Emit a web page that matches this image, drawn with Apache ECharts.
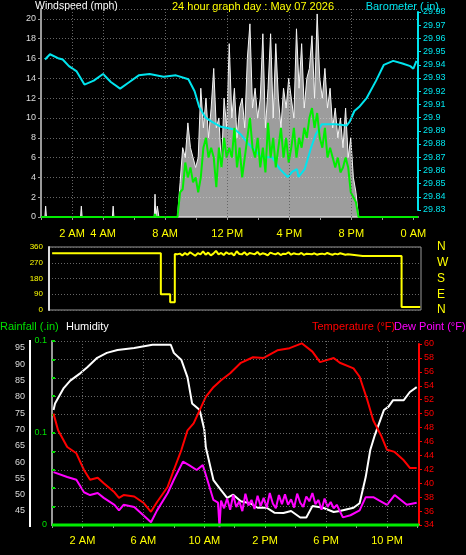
<!DOCTYPE html>
<html><head><meta charset="utf-8">
<script src="https://cdn.jsdelivr.net/npm/echarts@6/dist/echarts.min.js"></script>
<style>html,body{margin:0;padding:0;background:#000}#c{width:466px;height:555px}</style>
</head><body><div id="c"></div>
<script>
// ---------- data ----------
const topTickHours = [2,4,8,12,16,20,24];
const topTickLabels = ['2 AM','4 AM','8 AM','12 PM','4 PM','8 PM','0 AM'];
const botTickHours = [2,6,10,14,18,22];
const botTickLabels = ['2 AM','6 AM','10 AM','2 PM','6 PM','10 PM'];

// wind, calm part (hour, gust)
const calmHours = [0,0.25,0.3,0.35,2.55,2.6,2.65,4.6,4.65,4.7,7.3,7.35,7.4,7.5,7.55,7.6,8.8];
const calmGust  = [0,0,1.1,0,0,1.1,0,0,1.1,0,0,2.3,0,1.1,1.1,0,0];
const calmAvg   = [0,0,0,0,0,0.1,0,0,0,0,0,0.3,0,0,0,0,0];
// wind, active part (every 10 min from 8.8 h)
const windStart = 8.8, windStep = 1/6;
const windGust = [0,3.5,7,6,9.5,7,6,5,6,13,9,12,8,11,15,9,10,5,12,9,17.5,10,13,8,11,12,9,16,19.5,11,13,10,12,18.5,9,13,18.5,10,17.5,12,9,13,11,14,12,10,19,13,17.5,11,14,15,18.3,12,20.5,14,12,15,11,13,9,11,8,10,7,11,6,8,4,2.5,0];
const windAvg  = [0,2.5,2.8,5.5,4,5,3.5,4,2.5,4,7,8,6,7,6,3,7,5,8,6,7,6,9,5,7,4,6,8,10,7,6,8,5,7,4.5,9.5,6,8,5,7,9,6,8,5.5,7,9,6,8,7,9,8,10,11,9,10.5,8,7,9,6,7,6,5,6,4.5,5,6,5,2.5,2,1.5,0];
const windEndHours = [24.3];

// barometer
const baroHours = [0.26,0.58,1.1,1.4,1.8,2.3,2.8,3.4,4.0,4.5,5.1,5.7,6.3,7.0,7.9,8.7,9.5,9.9,10.2,10.6,11.0,11.6,12.5,12.9,13.3,13.8,14.2,14.9,15.4,15.9,16.2,16.5,16.6,17.0,17.4,17.7,18.1,19.0,19.7,19.9,20.2,20.5,21.0,21.6,22.1,22.7,23.3,23.8,24.0,24.2];
const baroVals  = [29.944,29.948,29.945,29.944,29.939,29.935,29.925,29.928,29.933,29.927,29.922,29.927,29.932,29.933,29.931,29.932,29.929,29.920,29.908,29.900,29.897,29.893,29.891,29.887,29.881,29.875,29.870,29.870,29.861,29.855,29.859,29.861,29.855,29.861,29.877,29.887,29.895,29.895,29.894,29.897,29.905,29.908,29.915,29.928,29.940,29.943,29.941,29.939,29.937,29.943];

// wind direction
const dirHoursA = [0.7,7.7,7.7,8.3,8.3,8.6,8.6];
const dirValsA  = [325,325,90,90,45,45,320];
const dirStart = 8.75, dirStep = 1/6;
const dirVals = [318,322,312,326,315,330,320,310,325,318,335,316,328,312,322,338,318,326,314,330,320,325,312,336,320,318,330,314,326,322,318,332,316,324,320,312,328,322,318,326,314,322,320,330,316,324,320,318,326,315,322,320,318,324,316,320,322,318,326,320,316,322,318,324,320,316,318];
const dirHoursB = [20.7,23.2,23.2,24.4];
const dirValsB  = [309,309,17,17];

// humidity
const humHours = [0.1,0.2,0.77,1.2,1.87,2.3,2.97,3.6,4.3,5.4,6.6,7.8,8.0,8.5,8.9,9.2,9.7,10.0,10.1,10.6,11.1,11.5,11.9,12.4,13.0,13.5,14.1,14.6,15.2,15.7,16.3,16.7,17.1,17.8,18.5,18.9,19.8,20.2,20.6,20.9,21.2,21.8,22.1,22.4,23.1,23.5,23.95];
const humVals  = [76,78,82.7,85,87.3,89,92,93.5,94.4,95,96,96,93.5,91.3,86,78,76,70,64.6,54.5,51.4,49,50,48,47.4,46,46,44.5,44.4,45,43,43,46.5,46,44.7,45,46,47.4,55.4,63.7,68.3,76,77,79,79,81.5,83];

// temperature
const tempHours = [0.1,0.4,1.0,1.6,2.1,2.5,3.0,3.4,4.1,4.4,4.7,5.4,6.0,6.5,6.9,7.6,8.0,8.5,8.9,9.3,9.7,10.1,10.6,11.1,11.7,12.4,13.2,13.9,14.8,15.6,16.4,17.1,17.6,18.5,18.9,19.8,20.2,20.7,21.1,21.6,22.0,22.5,23.1,23.5,23.95];
const tempVals  = [50,47.6,45.2,44.3,41.9,40.5,40.8,40,38.7,37.9,38.3,38.1,37.2,35.9,37.3,39.5,41.9,44.8,47.6,48.6,50.5,52.4,53.8,54.8,55.8,57.3,58.1,58,59.1,59.4,60.1,58.9,57.4,58,57.3,56.5,55.3,52,49,46.9,44.8,44.5,43.3,42.2,42.2];

// dew point
const dewHours = [0.1,1.0,1.6,2.1,2.5,3.0,3.4,4.1,4.4,4.7,5.4,6.0,6.5,6.9,7.6,8.0,8.6,9.0,9.5,9.9,10.2,10.6,10.9,11.0,11.1,11.3,11.5,11.7,11.9,12.1,12.3,12.5,12.7,12.9,13.1,13.3,13.5,13.7,13.9,14.1,14.3,14.5,14.7,14.9,15.1,15.3,15.5,15.7,15.9,16.1,16.3,16.5,16.7,16.9,17.1,17.3,17.5,17.7,17.9,18.1,18.3,18.5,18.7,19.1,19.6,20.2,20.6,21.1,21.5,22.0,22.5,23.3,23.95];
const dewVals  = [41.6,40.9,40.5,38.7,38.3,38.6,37.9,36.9,36.1,36.9,36.6,35.4,34.4,36.1,38.6,40.5,43.1,42.6,41.9,42.6,40.5,37.6,37.2,33.7,37.5,36.4,37.8,36.2,38.3,36.6,37.4,36,38.5,36.8,37.6,36.3,38.2,36.7,37.9,36.5,38.6,37.1,36.4,38.3,37,38.4,36.9,37.7,36.5,38.5,37.2,36.6,38.1,37.4,38.6,37,37.6,36.2,37.8,36.6,37.3,36.4,36.9,35.1,35.4,36.1,38,38,37.5,36.9,38.3,36.9,37.2];

// rainfall
const rainHours = [0,24.1];
const rainVals = [0,0];

// ---------- build ----------
const zip = (h,v)=>h.map((x,i)=>[x,v[i]]);
const gustData = zip(calmHours,calmGust).concat(windGust.map((v,i)=>[windStart+i*windStep,v]), [[windEndHours[0],0]]);
const avgData  = zip(calmHours,calmAvg).concat(windAvg.map((v,i)=>[windStart+i*windStep,v]), [[windEndHours[0],0]]);
const dirData = zip(dirHoursA,dirValsA).concat(dirVals.map((v,i)=>[dirStart+i*dirStep,v]), zip(dirHoursB,dirValsB));

const dotted = {show:true,lineStyle:{color:'#666',type:[1,2],width:1}};
const vlines = (hs)=>({silent:true,symbol:'none',label:{show:false},lineStyle:{color:'#666',type:[1,2],width:1},data:hs.map(h=>({xAxis:h}))});
const F = 'Liberation Sans';
const chart = echarts.init(document.getElementById('c'));
const hiddenX = (g,min,max)=>({type:'value',gridIndex:g,min:min,max:max,show:false});
const ts = (c)=>({color:c,fontSize:11,fontWeight:'normal',fontFamily:F});

chart.setOption({
  backgroundColor:'#000',
  animation:false,
  textStyle:{fontFamily:F},
  title:[
    {text:'Windspeed (mph)',left:35,top:1,padding:0,textStyle:Object.assign(ts('#fff'),{fontSize:10.5})},
    {text:'24 hour graph day : May 07 2026',left:172,top:1,padding:0,textStyle:ts('#ffff00')},
    {text:'Barometer (.in)',right:27,top:1,padding:0,textStyle:ts('#00e5ee')},
    {text:'Rainfall (.in)',left:0,top:321,padding:0,textStyle:ts('#00e000')},
    {text:'Humidity',left:66,top:321,padding:0,textStyle:ts('#fff')},
    {text:'Temperature (°F)',left:312,top:321,padding:0,textStyle:ts('#ff0000')},
    {text:'Dew Point (°F)',left:394,top:321,padding:0,textStyle:ts('#ff00ff')}
  ],
  grid:[
    {left:41,right:48,top:9,bottom:338},
    {left:41,right:48,top:12,bottom:345},
    {left:49,right:45,top:247,bottom:245,show:true,borderColor:'#999',borderWidth:1},
    {left:52,right:47,top:341,bottom:30},
    {left:52,right:47,top:348,bottom:44},
    {left:52,right:47,top:344,bottom:30}
  ],
  xAxis:[
    {type:'value',gridIndex:0,min:0,max:24.3,interval:2,
     axisLine:{lineStyle:{color:'#999',width:2}},axisTick:{show:true,length:3,lineStyle:{color:'#999'}},
     splitLine:{show:false},
     axisLabel:{color:'#ffff00',fontSize:11,margin:11,showMaxLabel:false,formatter:v=>{const i=topTickHours.indexOf(v);return i<0?'':topTickLabels[i];}}},
    hiddenX(1,0,24.3),
    hiddenX(2,0.5,24.45),
    {type:'value',gridIndex:3,min:0,max:24.1,interval:2,
     axisLine:{lineStyle:{color:'#999',width:2}},axisTick:{show:true,length:3,lineStyle:{color:'#999'}},
     splitLine:{show:false},
     axisLabel:{color:'#ffff00',fontSize:11,margin:10,showMaxLabel:false,formatter:v=>{const i=botTickHours.indexOf(v);return i<0?'':botTickLabels[i];}}},
    hiddenX(4,0,24.1),
    hiddenX(5,0,24.1)
  ],
  yAxis:[
    {type:'value',gridIndex:0,min:0,max:21,interval:2,
     axisLine:{show:true,onZero:false,lineStyle:{color:'#999',width:2}},axisTick:{show:true,length:3,lineStyle:{color:'#999'}},
     splitLine:dotted,axisLabel:{color:'#ddd',fontSize:9,margin:5,showMaxLabel:false}},
    {type:'value',gridIndex:1,min:29.83,max:29.98,interval:0.01,position:'right',
     axisLine:{show:true,onZero:false,lineStyle:{color:'#00e5ee',width:2}},axisTick:{show:true,length:3,lineStyle:{color:'#00e5ee'}},
     splitLine:{show:false},axisLabel:{color:'#00e5ee',fontSize:9,margin:5,formatter:v=>v.toFixed(2).replace(/0$/,'')}},
    {type:'value',gridIndex:2,min:0,max:360,interval:90,
     axisLine:{show:true,onZero:false,lineStyle:{color:'#ddd',width:2}},axisTick:{show:false},
     splitLine:dotted,axisLabel:{color:'#ffff00',fontSize:8,margin:6}},
    {type:'value',gridIndex:3,min:0,max:0.2,interval:0.02,
     axisLine:{show:true,onZero:false,lineStyle:{color:'#999',width:2}},axisTick:{show:true,length:3,inside:true,lineStyle:{color:'#00e000',width:2}},
     splitLine:dotted,axisLabel:{color:'#00e000',fontSize:9,margin:5,formatter:v=>Math.abs(v)<1e-9?'0':(Math.abs(v-0.1)<1e-9?'0.1':(Math.abs(v-0.2)<1e-9?'0.1':''))}},
    {type:'value',gridIndex:4,min:45,max:95,interval:5,offset:22,
     axisLine:{show:false,onZero:false},axisTick:{show:false},
     splitLine:{show:false},axisLabel:{color:'#ddd',fontSize:9,margin:5}},
    {type:'value',gridIndex:5,min:34,max:60,interval:2,position:'right',
     axisLine:{show:true,onZero:false,lineStyle:{color:'#ff0000',width:2}},axisTick:{show:true,length:3,lineStyle:{color:'#ff0000'}},
     splitLine:{show:false},axisLabel:{color:'#ff0000',fontSize:9,margin:5}},
    {type:'value',gridIndex:2,min:0,max:360,interval:90,position:'right',
     axisLine:{show:false,onZero:false},axisTick:{show:false},splitLine:{show:false},
     axisLabel:{color:'#ffff00',fontSize:12,margin:16,formatter:v=>({0:'N',90:'E',180:'S',270:'W',360:'N'})[v]}}
  ],
  graphic:[
    {type:'line',shape:{x1:30,y1:340,x2:30,y2:527},style:{stroke:'#fff',lineWidth:2},silent:true}
  ],
  series:[
    {type:'line',xAxisIndex:0,yAxisIndex:0,data:gustData,showSymbol:false,clip:false,
     lineStyle:{color:'#f4f4f4',width:1},areaStyle:{color:'#e0e0e0',opacity:0.7},markLine:vlines([2,4,8,12,16,20]),z:2},
    {type:'line',xAxisIndex:1,yAxisIndex:1,data:zip(baroHours,baroVals),showSymbol:false,clip:false,
     lineStyle:{color:'#00e5ee',width:2},z:3},
    {type:'line',xAxisIndex:0,yAxisIndex:0,data:avgData,showSymbol:false,clip:false,
     lineStyle:{color:'#00ee00',width:2},z:4},
    {type:'line',xAxisIndex:2,yAxisIndex:2,data:dirData,showSymbol:false,clip:false,
     lineStyle:{color:'#ffff00',width:2}},
    {type:'line',xAxisIndex:3,yAxisIndex:3,data:zip(rainHours,rainVals),showSymbol:false,clip:false,
     lineStyle:{color:'#00ee00',width:3},markLine:vlines(botTickHours),z:5},
    {type:'line',xAxisIndex:4,yAxisIndex:4,data:zip(humHours,humVals),showSymbol:false,clip:false,
     lineStyle:{color:'#ffffff',width:2}},
    {type:'line',xAxisIndex:5,yAxisIndex:5,data:zip(tempHours,tempVals),showSymbol:false,clip:false,
     lineStyle:{color:'#ff0000',width:2}},
    {type:'line',xAxisIndex:5,yAxisIndex:5,data:zip(dewHours,dewVals),showSymbol:false,clip:false,
     lineStyle:{color:'#ff00ff',width:2}}
  ]
});
</script></body></html>
